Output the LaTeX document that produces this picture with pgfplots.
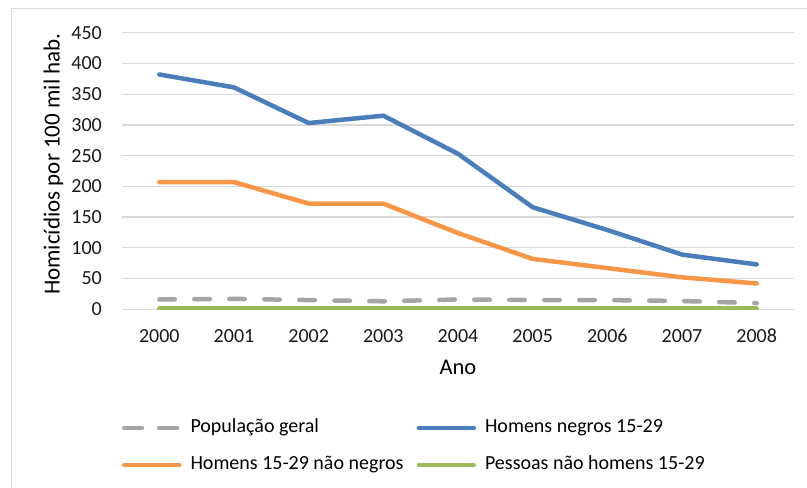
\documentclass[border=0pt]{standalone}
\usepackage{pgfplots}
\pgfplotsset{compat=1.18}
\usepackage{fontspec}
\setmainfont{Carlito}
\definecolor{cblue}{HTML}{4A7EBB}
\definecolor{corange}{HTML}{F79646}
\definecolor{cgreen}{HTML}{9BBB59}
\definecolor{cgray}{HTML}{A5A5A5}
\definecolor{cgrid}{HTML}{D9D9D9}
\begin{document}
\begin{tikzpicture}[x=1bp,y=1bp]
\useasboundingbox (0,0) rectangle (807,488);
\draw[cgrid, line width=1bp] (11,0) -- (11,479) -- (807,479);
\begin{axis}[
  at={(122bp,178.7bp)}, anchor=south west,
  width=672bp, height=276.6bp, scale only axis,
  xmin=1999.5, xmax=2008.5, ymin=0, ymax=450,
  xtick={2000,2001,...,2008}, ytick={0,50,...,450},
  axis line style={draw=none}, major tick length=0pt,
  ymajorgrids, grid style={cgrid, line width=1.3bp},
  /pgf/number format/assume math mode=true,
  /pgf/number format/1000 sep={},
  ticklabel style={font=\fontsize{20bp}{24bp}\selectfont, inner sep=0pt, text=black!90},
  xticklabel style={anchor=north, text height=12.6bp, text depth=0pt},
  xticklabel shift=20.7bp,
  yticklabel style={anchor=east},
  yticklabel shift=20bp,
  xlabel={Ano}, ylabel={Homicídios por 100 mil hab.},
  every axis x label/.style={at={(axis description cs:0.5,-0.235)}, anchor=base, font=\fontsize{22.5bp}{27bp}\selectfont},
  every axis y label/.style={at={(axis description cs:-0.102,0.525)}, anchor=center, rotate=90, font=\fontsize{23bp}{27bp}\selectfont},
  legend columns=2,
  legend cell align=left,
  legend image code/.code={\path (-2.25bp,0) -- (52.75bp,0); \draw[#1] (0,0) -- (50.5bp,0);},
  legend style={at={(axis description cs:0,-0.3966)}, anchor=north west, draw=none, fill=none,
    inner sep=0pt, outer sep=0pt, row sep=19bp,
    font=\fontsize{20bp}{24bp}\selectfont,
    nodes={inner sep=0pt, text height=14bp, text depth=4bp},
    /tikz/every odd column/.append style={column sep=9bp},
    /tikz/every even column/.append style={column sep=13bp}},
]
\addplot[cgray, line width=4.5bp, line cap=round, dash pattern=on 15.5bp off 19.5bp] coordinates {
(2000,16) (2001,17) (2002,15) (2003,13) (2004,16) (2005,15) (2006,15) (2007,13.5) (2008,10)};
\addlegendentry{População geral}
\addplot[cblue, line width=4.5bp, line cap=round, line join=round] coordinates {
(2000,382) (2001,361) (2002,303) (2003,315) (2004,253) (2005,166) (2006,129) (2007,89) (2008,73)};
\addlegendentry{Homens negros 15-29}
\addplot[corange, line width=4.5bp, line cap=round, line join=round] coordinates {
(2000,207) (2001,207) (2002,172) (2003,172) (2004,124) (2005,82) (2006,67) (2007,52) (2008,42)};
\addlegendentry{Homens 15-29 não negros}
\addplot[cgreen, line width=4.5bp, line cap=round, line join=round] coordinates {
(2000,1) (2001,1) (2002,1) (2003,1) (2004,1) (2005,1) (2006,1) (2007,1) (2008,1)};
\addlegendentry{Pessoas não homens 15-29}
\end{axis}
\end{tikzpicture}
\end{document}
